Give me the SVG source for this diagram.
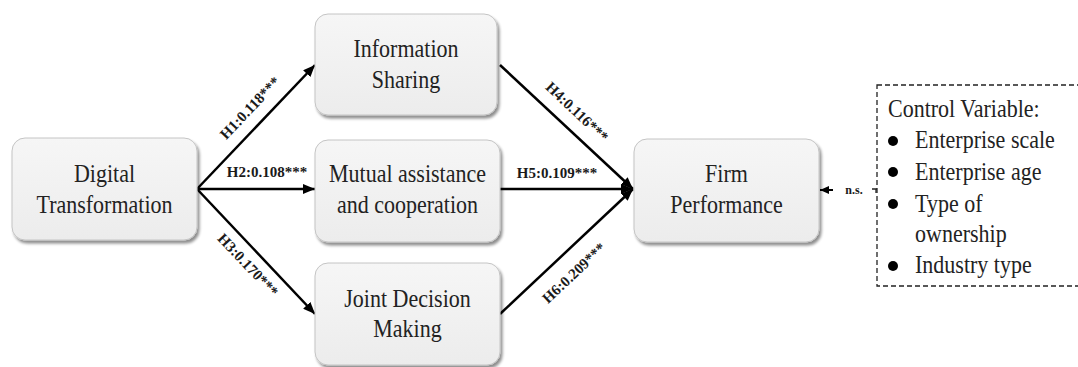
<svg xmlns="http://www.w3.org/2000/svg" width="1078" height="367" viewBox="0 0 1078 367">
  <style>
    .box { fill: url(#g); stroke: #c4c4c4; stroke-width: 1; filter: url(#sh); }
    .nt { font-family: "Liberation Serif", "Times New Roman", serif; font-size: 22px; fill: #222; text-anchor: middle; }
    .lb { font-family: "Liberation Serif", "Times New Roman", serif; font-size: 15px; font-weight: bold; fill: #1a1a1a; text-anchor: middle; }
    .ct { font-family: "Liberation Serif", "Times New Roman", serif; font-size: 22px; fill: #222; }
    .ln { stroke: #000; stroke-width: 2.5; fill: none; marker-end: url(#ah); }
  </style>
  <defs>
    <linearGradient id="g" x1="0" y1="0" x2="0" y2="1">
      <stop offset="0" stop-color="#f6f6f6"/>
      <stop offset="1" stop-color="#ececec"/>
    </linearGradient>
    <filter id="sh" x="-10%" y="-10%" width="125%" height="130%">
      <feGaussianBlur in="SourceAlpha" stdDeviation="1.5"/>
      <feOffset dx="2" dy="3" result="o"/>
      <feComponentTransfer><feFuncA type="linear" slope="0.45"/></feComponentTransfer>
      <feMerge><feMergeNode/><feMergeNode in="SourceGraphic"/></feMerge>
    </filter>
    <marker id="ah" markerUnits="userSpaceOnUse" markerWidth="12" markerHeight="10" refX="12" refY="5" orient="auto">
      <path d="M0,0 L12,5 L0,10 z" fill="#000"/>
    </marker>
    <marker id="ahs" markerUnits="userSpaceOnUse" markerWidth="9" markerHeight="8" refX="9" refY="4" orient="auto">
      <path d="M0,0 L9,4 L0,8 z" fill="#000"/>
    </marker>
  </defs>

  <g id="connectors">
    <line class="ln" x1="197" y1="189" x2="315" y2="65"/>
    <line class="ln" x1="197" y1="189" x2="315" y2="189"/>
    <line class="ln" x1="197" y1="189" x2="315" y2="314"/>
    <line class="ln" x1="500" y1="65" x2="633" y2="189"/>
    <line class="ln" x1="500" y1="189" x2="633" y2="189"/>
    <line class="ln" x1="500" y1="314" x2="633" y2="189"/>
    <line x1="833" y1="190" x2="820" y2="190" stroke="#000" stroke-width="2" marker-end="url(#ahs)"/>
    <path d="M872,189 L877,189 M876,189 L876,193" stroke="#222" stroke-width="1.3" fill="none"/>
    <text class="lb" transform="translate(250,108) rotate(-46.4)" y="5">H1:0.118***</text>
    <text class="lb" x="267" y="177">H2:0.108***</text>
    <text class="lb" transform="translate(248,265) rotate(46.6)" y="5">H3:0.170***</text>
    <text class="lb" transform="translate(577,112) rotate(43.4)" y="5">H4:0.116***</text>
    <text class="lb" x="557" y="178">H5:0.109***</text>
    <text class="lb" transform="translate(574,273) rotate(-43.2)" y="5">H6:0.209***</text>
    <text class="lb" style="font-size:12px" x="854" y="194">n.s.</text>
  </g>

  <g id="digital">
    <rect class="box" x="12" y="138" width="185" height="102" rx="13"/>
    <text class="nt" transform="translate(104.5,182) scale(1,1.17)">Digital</text>
    <text class="nt" transform="translate(104.5,213) scale(1,1.17)">Transformation</text>
  </g>
  <g id="info">
    <rect class="box" x="315" y="14" width="182" height="101" rx="13"/>
    <text class="nt" transform="translate(406,57) scale(1,1.17)">Information</text>
    <text class="nt" transform="translate(406,88) scale(1,1.17)">Sharing</text>
  </g>
  <g id="mutual">
    <rect class="box" x="315" y="140" width="185" height="102" rx="13"/>
    <text class="nt" transform="translate(407.5,182) scale(1,1.17)">Mutual assistance</text>
    <text class="nt" transform="translate(407.5,213) scale(1,1.17)">and cooperation</text>
  </g>
  <g id="joint">
    <rect class="box" x="315" y="263" width="185" height="102" rx="13"/>
    <text class="nt" transform="translate(407.5,307) scale(1,1.17)">Joint Decision</text>
    <text class="nt" transform="translate(407.5,337) scale(1,1.17)">Making</text>
  </g>
  <g id="firm">
    <rect class="box" x="634" y="139" width="185" height="103" rx="13"/>
    <text class="nt" transform="translate(726.5,182) scale(1,1.17)">Firm</text>
    <text class="nt" transform="translate(726.5,213) scale(1,1.17)">Performance</text>
  </g>
  <g id="control">
    <rect x="877" y="85" width="205" height="201" fill="none" stroke="#222" stroke-width="1.3" stroke-dasharray="5,3"/>
    <text class="ct" transform="translate(888,117) scale(1,1.17)">Control Variable:</text>
    <circle cx="893" cy="141" r="5"/>
    <text class="ct" transform="translate(915,148) scale(1,1.17)">Enterprise scale</text>
    <circle cx="893" cy="172" r="5"/>
    <text class="ct" transform="translate(915,180) scale(1,1.17)">Enterprise age</text>
    <circle cx="893" cy="204" r="5"/>
    <text class="ct" transform="translate(915,212) scale(1,1.17)">Type of</text>
    <text class="ct" transform="translate(915,242) scale(1,1.17)">ownership</text>
    <circle cx="893" cy="266" r="5"/>
    <text class="ct" transform="translate(915,273) scale(1,1.17)">Industry type</text>
  </g>
</svg>
